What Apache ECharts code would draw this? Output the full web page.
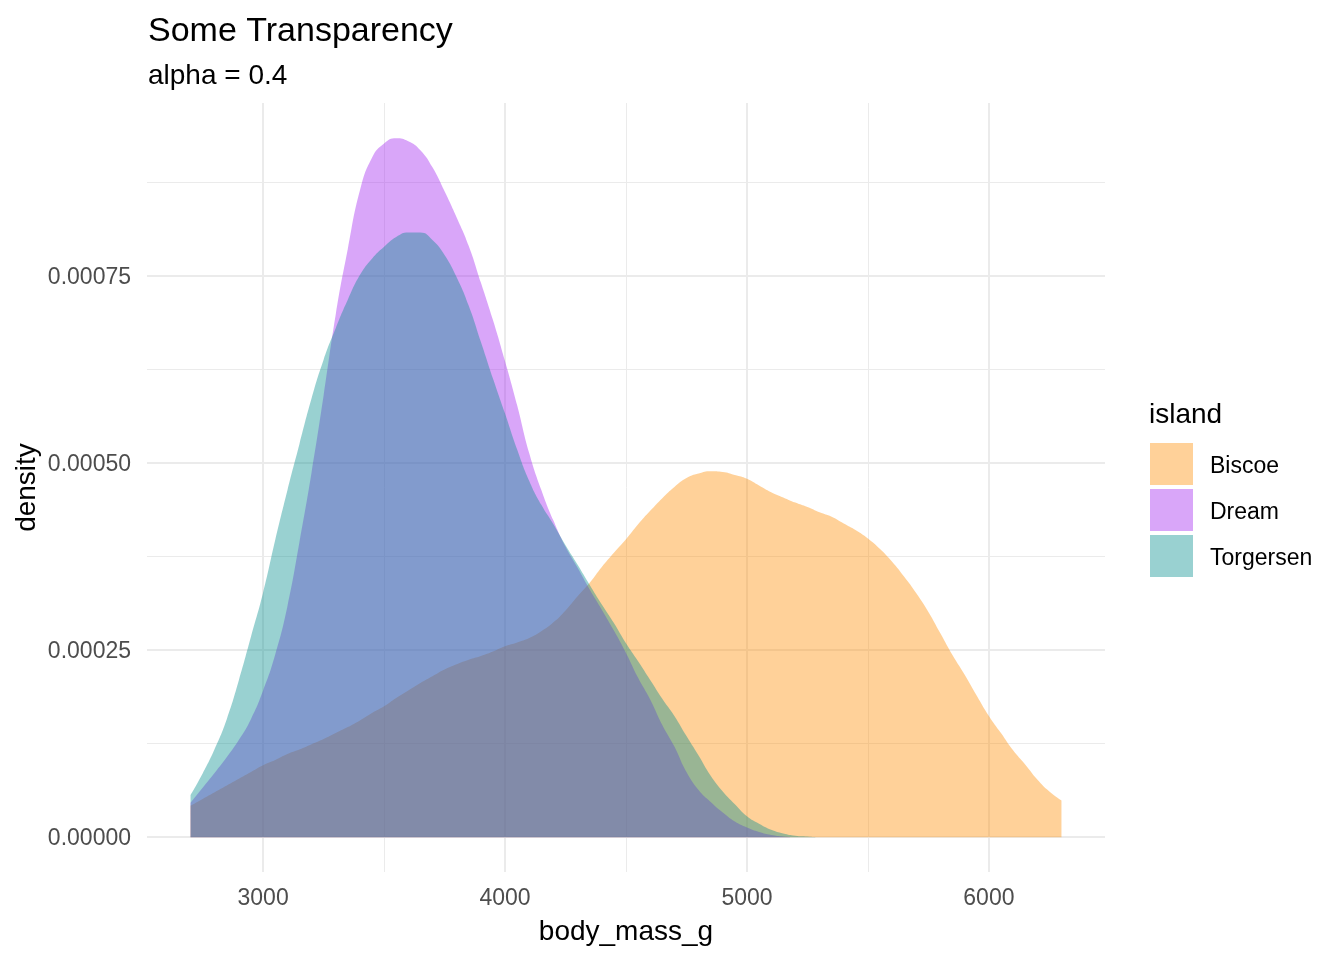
<!DOCTYPE html>
<html>
<head>
<meta charset="utf-8">
<title>Some Transparency</title>
<script src="https://cdn.jsdelivr.net/npm/echarts@6.0.0/dist/echarts.min.js"></script>
<style>
  html, body { margin: 0; padding: 0; background: #fff; }
  #chart { width: 1344px; height: 960px; }
</style>
</head>
<body>
<div id="chart"></div>
<script>
// body mass grid (g) the densities were read at
var masses = [
  2700, 2750, 2800, 2850, 2900, 2950, 3000, 3050, 3100, 3150,
  3200, 3250, 3300, 3350, 3400, 3450, 3500, 3550, 3600, 3650,
  3700, 3750, 3800, 3850, 3900, 3950, 4000, 4050, 4100, 4150,
  4200, 4250, 4300, 4350, 4400, 4450, 4500, 4550, 4600, 4650,
  4700, 4750, 4800, 4850, 4900, 4950, 5000, 5050, 5100, 5150,
  5200, 5250, 5300, 5350, 5400, 5450, 5500, 5550, 5600, 5650,
  5700, 5750, 5800, 5850, 5900, 5950, 6000, 6050, 6100, 6150,
  6200, 6250, 6300
];

var biscoe = [
  0.000042, 0.000051, 0.000060, 0.000069, 0.000078, 0.000087, 0.000096, 0.000103, 0.000111, 0.000117,
  0.000124, 0.000131, 0.000139, 0.000147, 0.000156, 0.000166, 0.000175, 0.000186, 0.000196, 0.000206,
  0.000215, 0.000224, 0.000231, 0.000237, 0.000242, 0.000248, 0.000255, 0.000260, 0.000266, 0.000275,
  0.000287, 0.000303, 0.000322, 0.000340, 0.000361, 0.000380, 0.000398, 0.000418, 0.000436, 0.000453,
  0.000468, 0.000480, 0.000486, 0.000489, 0.000488, 0.000484, 0.000479, 0.000470, 0.000461, 0.000454,
  0.000447, 0.000441, 0.000434, 0.000428, 0.000419, 0.000410, 0.000399, 0.000385, 0.000368, 0.000348,
  0.000326, 0.000301, 0.000272, 0.000243, 0.000217, 0.000189, 0.000162, 0.000139, 0.000116, 0.000097,
  0.000077, 0.000061, 0.000049
];

var dream = [
  0.000046, 0.000066, 0.000086, 0.000107, 0.000130, 0.000158, 0.000196, 0.000244, 0.000308, 0.000394,
  0.000487, 0.000590, 0.000698, 0.000786, 0.000864, 0.000908, 0.000927, 0.000934, 0.000930, 0.000918,
  0.000895, 0.000863, 0.000828, 0.000790, 0.000741, 0.000691, 0.000636, 0.000577, 0.000513, 0.000464,
  0.000423, 0.000388, 0.000360, 0.000331, 0.000304, 0.000276, 0.000246, 0.000213, 0.000184, 0.000150,
  0.000121, 0.000087, 0.000063, 0.000047, 0.000033, 0.000021, 0.000013, 0.000007, 0.000003, 0.000001,
  0, 0, 0, 0, 0, 0, 0, 0, 0, 0,
  0, 0, 0, 0, 0, 0, 0, 0, 0, 0,
  0, 0, 0
];

var torgersen = [
  0.000056, 0.000085, 0.000118, 0.000158, 0.000210, 0.000268, 0.000327, 0.000397, 0.000463, 0.000525,
  0.000586, 0.000638, 0.000680, 0.000718, 0.000751, 0.000773, 0.000789, 0.000802, 0.000808, 0.000808,
  0.000798, 0.000778, 0.000748, 0.000710, 0.000662, 0.000613, 0.000566, 0.000518, 0.000476, 0.000444,
  0.000418, 0.000390, 0.000364, 0.000337, 0.000311, 0.000286, 0.000259, 0.000235, 0.000210, 0.000185,
  0.000162, 0.000135, 0.000109, 0.000082, 0.000061, 0.000044, 0.000028, 0.000018, 0.000010, 0.000005,
  0.000002, 0.000001, 0, 0, 0, 0, 0, 0, 0, 0,
  0, 0, 0, 0, 0, 0, 0, 0, 0, 0,
  0, 0, 0
];

var islands = ['Biscoe', 'Dream', 'Torgersen'];

var xMajor = [3000, 4000, 5000, 6000];
var xMinor = [3500, 4500, 5500];
var yMajor = [0, 0.00025, 0.0005, 0.00075];
var yMinor = [0.000125, 0.000375, 0.000625, 0.000875];

var FONT = '"Liberation Sans", Arial, Helvetica, sans-serif';
var fillColors = ['#FF8C00', '#A020F0', '#008B8B'];   // darkorange, purple, cyan4
var keyColors = ['#FFD199', '#D9A6F9', '#99D1D1'];    // same at alpha 0.4 on white
var GRID = '#EBEBEB';

function pairs(values) {
  return masses.map(function (m, i) { return [m, values[i]]; });
}

// panel grid lines, drawn under the densities
function gridSeries(width, xs, ys) {
  return {
    type: 'line',
    data: [],
    silent: true,
    z: 1,
    markLine: {
      z: 1,
      silent: true,
      symbol: 'none',
      precision: 10,
      animation: false,
      label: { show: false },
      emphasis: { disabled: true },
      lineStyle: { color: GRID, width: width, type: 'solid' },
      data: ys.map(function (v) { return { yAxis: v }; })
        .concat(xs.map(function (v) { return { xAxis: v }; }))
    }
  };
}

function areaSeries(name, values, color) {
  return {
    name: name,
    type: 'line',
    z: 2,
    data: pairs(values),
    showSymbol: false,
    smooth: 0.5,
    color: color,
    lineStyle: { width: 0, opacity: 0 },
    areaStyle: { color: color, opacity: 0.4 }
  };
}

var chart = echarts.init(document.getElementById('chart'), null, { renderer: 'canvas' });

chart.setOption({
  backgroundColor: '#fff',
  animation: false,
  textStyle: { fontFamily: FONT },
  title: [
    {
      text: 'Some Transparency',
      subtext: 'alpha = 0.4',
      left: 148,
      top: 15,
      padding: 0,
      itemGap: 13,
      textStyle: { fontSize: 34, fontWeight: 'normal', color: '#000', fontFamily: FONT },
      subtextStyle: { fontSize: 28, color: '#000', fontFamily: FONT }
    },
    {
      text: 'island',
      left: 1149,
      top: 401,
      padding: 0,
      textStyle: { fontSize: 28, fontWeight: 'normal', color: '#000', fontFamily: FONT }
    }
  ],
  legend: {
    orient: 'vertical',
    left: 1150,
    top: 443,
    padding: 0,
    itemWidth: 43,
    itemHeight: 42,
    itemGap: 4,
    icon: 'rect',
    selectedMode: false,
    formatter: function (name) { return '{l|' + name + '}'; },
    textStyle: {
      fontSize: 23, color: '#000', fontFamily: FONT,
      rich: { l: { fontSize: 23, color: '#000', fontFamily: FONT, padding: [6, 0, 0, 12] } }
    },
    data: islands.map(function (n, i) {
      return { name: n, icon: 'rect', itemStyle: { color: keyColors[i], borderWidth: 0 } };
    })
  },
  grid: { left: 147, right: 239, top: 103, bottom: 88 },
  xAxis: {
    type: 'value',
    min: 2520,
    max: 6480,
    name: 'body_mass_g',
    nameLocation: 'middle',
    nameGap: 46,
    nameMoveOverlap: false,
    nameTextStyle: { fontSize: 28, color: '#000', fontFamily: FONT },
    axisLine: { show: false },
    axisTick: { show: false },
    splitLine: { show: false },
    axisLabel: {
      customValues: xMajor,
      margin: 15,
      fontSize: 23,
      color: '#4D4D4D',
      fontFamily: FONT,
      formatter: function (v) { return String(v); }
    }
  },
  yAxis: {
    type: 'value',
    min: -0.0000466,
    max: 0.000981,
    name: 'density',
    nameLocation: 'middle',
    nameRotate: 90,
    nameGap: 106,
    nameMoveOverlap: false,
    nameTextStyle: { fontSize: 28, color: '#000', fontFamily: FONT },
    axisLine: { show: false },
    axisTick: { show: false },
    splitLine: { show: false },
    axisLabel: {
      customValues: yMajor,
      margin: 16,
      fontSize: 23,
      color: '#4D4D4D',
      fontFamily: FONT,
      formatter: function (v) { return '{t|' + v.toFixed(5) + '}'; },
      rich: { t: { fontSize: 23, color: '#4D4D4D', fontFamily: FONT, padding: [4, 0, 0, 0] } }
    }
  },
  series: [
    gridSeries(1, xMinor, yMinor),
    gridSeries(2, xMajor, yMajor),
    areaSeries(islands[0], biscoe, fillColors[0]),
    areaSeries(islands[1], dream, fillColors[1]),
    areaSeries(islands[2], torgersen, fillColors[2])
  ]
});
</script>
</body>
</html>
